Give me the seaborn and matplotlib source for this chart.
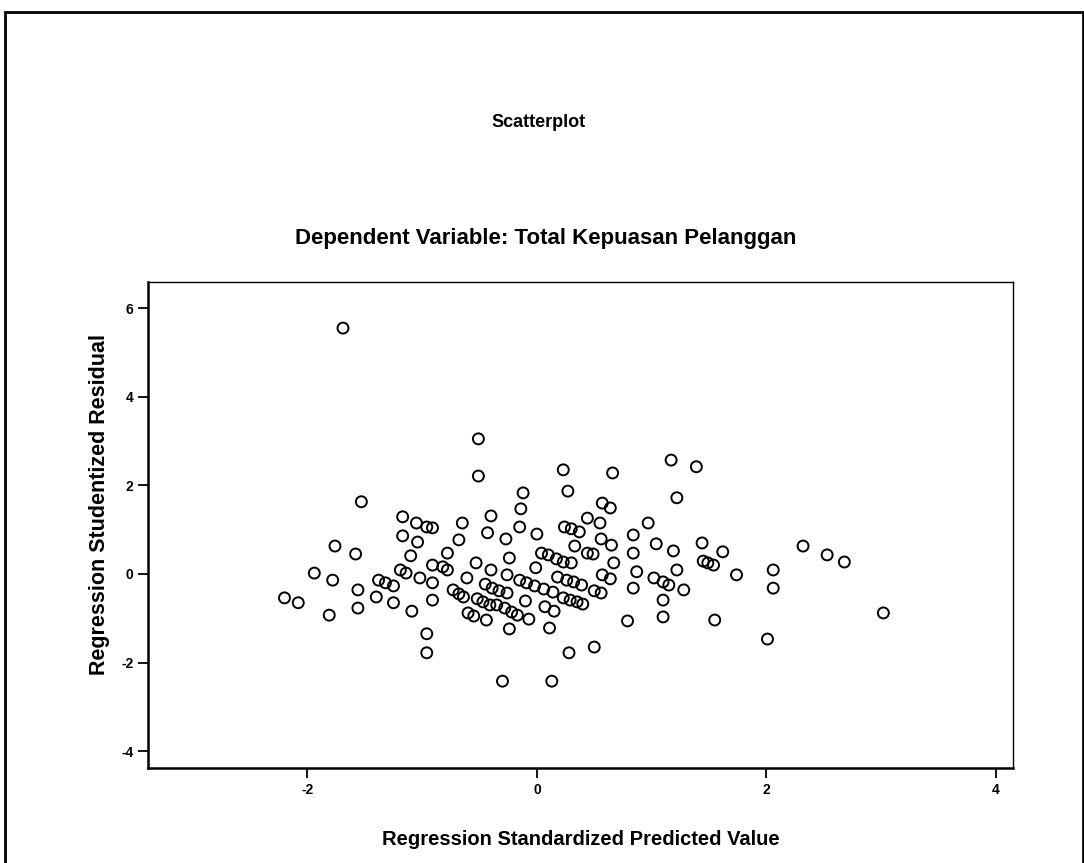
import pandas as pd
import matplotlib.pyplot as plt
import seaborn as sns
from matplotlib.patches import Rectangle

sns.set_theme(style="white")
plt.rcParams["font.family"] = ["Liberation Sans", "DejaVu Sans"]
plt.rcParams["axes.unicode_minus"] = False
plt.rcParams["text.color"] = "black"

# -----------------------------
# Data
# -----------------------------
pred = [
    -1.69, -1.53, -1.17, -1.05, -0.96, -0.91, -1.17, -1.04, -1.76, -1.58,
    -1.10, -1.19, -1.14, -1.02, -1.94, -1.78, -1.38, -1.32, -1.25, -1.56,
    -2.20, -2.08, -1.40, -1.25, -1.09, -1.56, -1.81, -0.96, -0.96, -0.91,
    -0.91, -0.91, -0.51, -0.51, 0.23, 0.27, -0.12, -0.14, -0.15, 0.00,
    -0.40, -0.43, -0.27, -0.65, -0.68, -0.78, 0.44, 0.24, 0.30, 0.37,
    0.33, 0.44, 0.49, 0.04, 0.10, 0.17, 0.23, 0.30, -0.24, -0.01,
    -0.53, -0.40, -0.26, -0.82, -0.78, -0.61, -0.45, -0.39, -0.33, -0.26,
    -0.15, -0.09, -0.02, 0.06, 0.14, 0.18, 0.26, 0.32, 0.39, -0.73,
    -0.68, -0.64, -0.52, -0.47, -0.41, -0.35, -0.28, -0.22, -0.17, -0.10,
    0.07, 0.15, 0.23, 0.29, 0.35, 0.40, -0.60, -0.55, -0.44, -0.07,
    0.11, -0.24, -0.30, 0.13, 0.28, 0.50, 0.56, 0.65, 0.55, 0.57,
    0.64, 0.66, 0.67, 0.57, 0.64, 0.50, 0.56, 0.84, 0.84, 0.87,
    0.84, 0.97, 1.04, 1.19, 1.22, 1.02, 1.10, 1.15, 1.28, 1.10,
    1.10, 0.79, 1.17, 1.39, 1.22, 1.44, 1.62, 1.45, 1.49, 1.54,
    1.55, 1.74, 2.32, 2.53, 2.68, 2.06, 2.06, 3.02, 2.01,
]
resid = [
    5.55, 1.63, 1.29, 1.15, 1.06, 1.04, 0.86, 0.72, 0.63, 0.45,
    0.41, 0.09, 0.02, -0.09, 0.02, -0.14, -0.14, -0.20, -0.27, -0.36,
    -0.54, -0.65, -0.52, -0.65, -0.84, -0.77, -0.93, -1.35, -1.78, 0.20,
    -0.20, -0.59, 3.05, 2.21, 2.35, 1.87, 1.83, 1.47, 1.06, 0.90,
    1.31, 0.93, 0.79, 1.15, 0.77, 0.47, 1.26, 1.06, 1.02, 0.95,
    0.63, 0.47, 0.45, 0.47, 0.43, 0.34, 0.27, 0.25, 0.36, 0.14,
    0.25, 0.09, -0.02, 0.16, 0.09, -0.09, -0.23, -0.32, -0.38, -0.43,
    -0.14, -0.20, -0.27, -0.34, -0.41, -0.07, -0.14, -0.18, -0.25, -0.36,
    -0.45, -0.52, -0.56, -0.63, -0.70, -0.70, -0.77, -0.86, -0.93, -0.61,
    -0.74, -0.84, -0.54, -0.59, -0.63, -0.68, -0.88, -0.95, -1.04, -1.02,
    -1.22, -1.24, -2.42, -2.42, -1.78, -1.65, 0.79, 0.65, 1.15, 1.60,
    1.49, 2.28, 0.25, -0.02, -0.11, -0.38, -0.43, 0.88, 0.47, 0.05,
    -0.32, 1.15, 0.68, 0.52, 0.09, -0.09, -0.18, -0.25, -0.36, -0.59,
    -0.97, -1.06, 2.57, 2.42, 1.72, 0.70, 0.50, 0.29, 0.25, 0.20,
    -1.04, -0.02, 0.63, 0.43, 0.27, 0.09, -0.32, -0.88, -1.47,
]
x_ticks = [-2, 0, 2, 4]
y_ticks = [-4, -2, 0, 2, 4, 6]

df = pd.DataFrame({"Predicted": pred, "Residual": resid})

# -----------------------------
# Layout
# -----------------------------
fig = plt.figure(figsize=(10.84, 8.63), dpi=100)
fig.patch.set_facecolor("white")
ax = fig.add_axes([0.1365, 0.1101, 0.798, 0.5631])

sns.scatterplot(
    data=df,
    x="Predicted",
    y="Residual",
    marker="o",
    s=62,
    facecolor="none",
    edgecolor="black",
    linewidth=1.4,
    ax=ax,
)

ax.set_xlim(-3.39, 4.15)
ax.set_ylim(-4.38, 6.59)
ax.set_xticks(x_ticks)
ax.set_yticks(y_ticks)
ax.set_xlabel("")
ax.set_ylabel("")
ax.tick_params(axis="both", direction="out", length=7, width=1.3,
               color="black", labelsize=10, labelcolor="black")
ax.tick_params(axis="both", left=True, bottom=True)
for lab in ax.get_xticklabels() + ax.get_yticklabels():
    lab.set_fontweight("bold")

for side in ["left", "bottom"]:
    ax.spines[side].set_linewidth(1.8)
for side in ["top", "right"]:
    ax.spines[side].set_linewidth(1.0)
for sp in ax.spines.values():
    sp.set_color("black")
    sp.set_visible(True)

# -----------------------------
# Titles / labels
# -----------------------------
fig.text(0.497, 0.8586, "Scatterplot", ha="center", va="center",
         fontsize=13, fontweight="bold", color="black")
fig.text(0.503, 0.7242, "Dependent Variable: Total Kepuasan Pelanggan",
         ha="center", va="center", fontsize=16, fontweight="bold", color="black")
fig.text(0.536, 0.0267, "Regression Standardized Predicted Value",
         ha="center", va="center", fontsize=14.5, fontweight="bold", color="black")
fig.text(0.092, 0.415, "Regression Studentized Residual", rotation=90,
         ha="center", va="center", fontsize=15.5, fontweight="bold", color="black")

# outer frame from the scanned output window
fig.patches.append(Rectangle((0.005, -0.01), 0.994, 0.996, transform=fig.transFigure,
                             fill=False, edgecolor="black", linewidth=2))

fig.savefig("out.png", dpi=100, facecolor="white")
